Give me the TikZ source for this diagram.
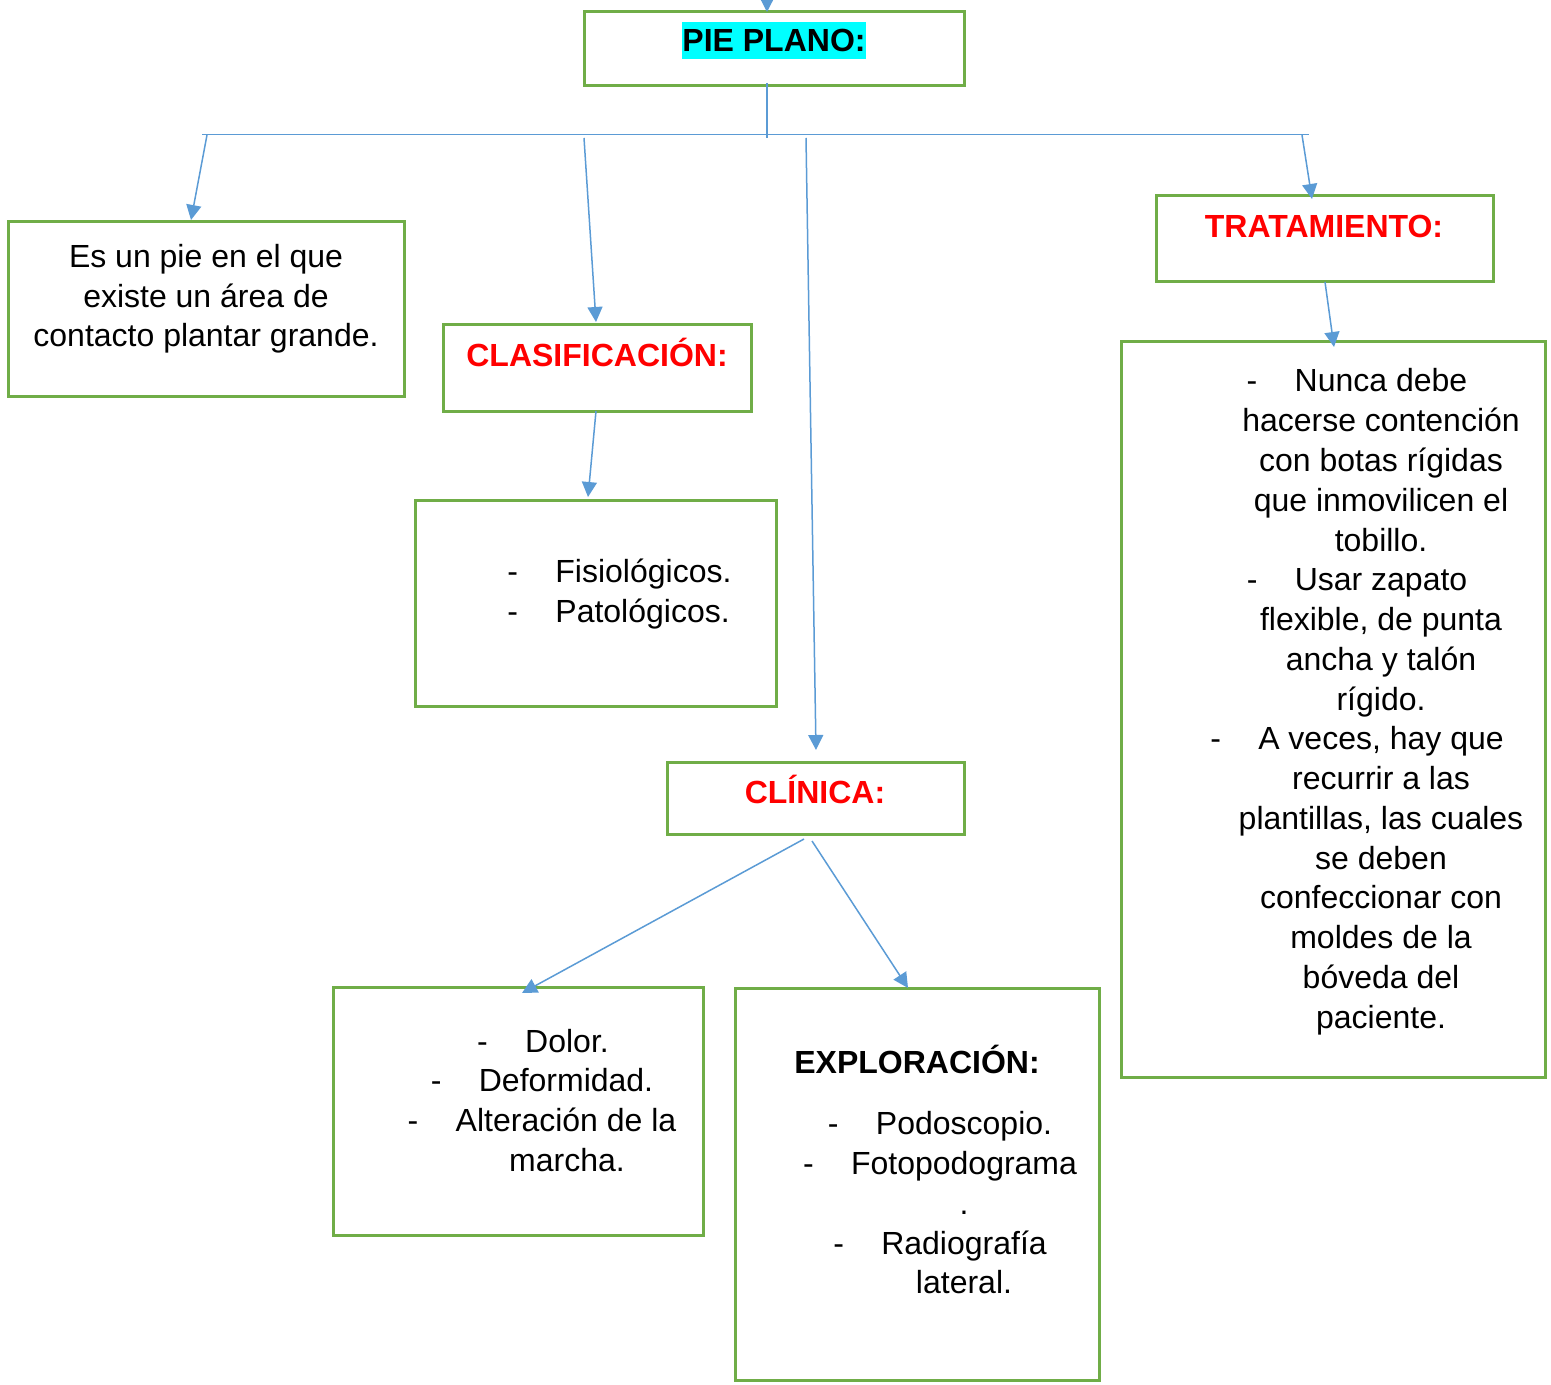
\documentclass[tikz,border=0pt]{standalone}
\usepackage{fontspec}
\setmainfont{Liberation Sans}
\usetikzlibrary{arrows.meta,fit,calc}
\definecolor{gr}{HTML}{70AD47}
\definecolor{bl}{HTML}{5B9BD5}
\definecolor{hl}{HTML}{00FFFF}
\definecolor{hd}{HTML}{FF0000}
\tikzset{
  gbox/.style={draw=gr, line width=1.5pt, inner sep=0pt},
  conn/.style={draw=bl, line width=0.75pt},
  arr/.style={conn, -{Triangle[length=7.5pt,width=7.5pt]}, fill=bl},
  body/.style={font=\fontsize{16pt}{20pt}\selectfont, inner sep=0pt, anchor=base},
  head/.style={font=\fontsize{16pt}{20pt}\selectfont\bfseries, text=hd, inner sep=0pt, anchor=base},
  dashmark/.style={font=\fontsize{16pt}{20pt}\selectfont, inner sep=0pt, anchor=base west},
}
\begin{document}
\begin{tikzpicture}[x=0.5pt,y=-0.5pt]
\useasboundingbox (0,0) rectangle (1551,1385);

% boxes
\node[gbox, fit={(584,12) (964,86)}] (bpie) {};
\node[gbox, fit={(8,222) (404,396)}] (bdef) {};
\node[gbox, fit={(443,325) (751,411)}] (bcla) {};
\node[gbox, fit={(415,500) (776,706)}] (btip) {};
\node[gbox, fit={(667,762) (964,834)}] (bcli) {};
\node[gbox, fit={(333,987) (703,1235)}] (bsin) {};
\node[gbox, fit={(735,988) (1099,1380)}] (bexp) {};
\node[gbox, fit={(1156,196) (1493,282)}] (btra) {};
\node[gbox, fit={(1121,342) (1545,1077)}] (btxt) {};

% headings
\node[font=\fontsize{16pt}{20pt}\selectfont\bfseries, fill=hl, inner sep=0pt,
      text height=15pt, text depth=3.5pt, anchor=base] (tpie) at (774,52) {PIE PLANO:};
\node[head] (tcla) at (597,366) {CLASIFICACIÓN:};
\node[head] (tcli) at (815,803) {CLÍNICA:};
\node[head] (ttra) at (1324,238) {TRATAMIENTO:};
\node[head, text=black] (texp) at (917,1073) {EXPLORACIÓN:};

% definition
\node[body] (d1) at (206,268) {Es un pie en el que};
\node[body] (d2) at (206,307.5) {existe un área de};
\node[body] (d3) at (206,347) {contacto plantar grande.};

% classification
\node[body, anchor=base west] (c1) at (555,582) {Fisiológicos.};
\node[body, anchor=base west] (c2) at (555,622) {Patológicos.};
\node[dashmark] (c1m) at ($(c1.base west)+(-48,0)$) {-};
\node[dashmark] (c2m) at ($(c2.base west)+(-48,0)$) {-};

% symptoms
\node[body] (s1) at (567,1052) {Dolor.};
\node[body] (s2) at (566,1091.5) {Deformidad.};
\node[body] (s3) at (566,1131) {Alteración de la};
\node[body] (s4) at (567,1171) {marcha.};
\node[dashmark] (s1m) at ($(s1.base west)+(-48,0)$) {-};
\node[dashmark] (s2m) at ($(s2.base west)+(-48,0)$) {-};
\node[dashmark] (s3m) at ($(s3.base west)+(-48,0)$) {-};

% exploration
\node[body] (e1) at (964,1134) {Podoscopio.};
\node[body] (e2) at (964,1174) {Fotopodograma};
\node[body] (e3) at (964,1214) {.};
\node[body] (e4) at (964,1254) {Radiografía};
\node[body] (e5) at (964,1293) {lateral.};
\node[dashmark] (e1m) at ($(e1.base west)+(-48,0)$) {-};
\node[dashmark] (e2m) at ($(e2.base west)+(-48,0)$) {-};
\node[dashmark] (e4m) at ($(e4.base west)+(-48,0)$) {-};

% treatment
\foreach \t [count=\i from 0] in {Nunca debe,hacerse contención,con botas rígidas,que inmovilicen el,tobillo.,Usar zapato,{flexible, de punta},ancha y talón,rígido.,{A veces, hay que},recurrir a las,{plantillas, las cuales},se deben,confeccionar con,moldes de la,bóveda del,paciente.}
  \node[body] (r\i) at (1381,{392+39.75*\i}) {\t};
\node[dashmark] (r0m) at ($(r0.base west)+(-48,0)$) {-};
\node[dashmark] (r5m) at ($(r5.base west)+(-48,0)$) {-};
\node[dashmark] (r9m) at ($(r9.base west)+(-48,0)$) {-};

% connector points
\coordinate (top) at (767,-30);
\coordinate (pietip) at (767,12);
\coordinate (vs) at (767,83);
\coordinate (ve) at (767,138);
\coordinate (hl) at (202,134.5);
\coordinate (hr) at (1309,134.5);
\coordinate (a1s) at (207,135);
\coordinate (a1e) at (191,220);
\coordinate (a2s) at (584,138);
\coordinate (a2e) at (596,322);
\coordinate (a3s) at (806,138);
\coordinate (a3e) at (816,750);
\coordinate (a4s) at (1302,135);
\coordinate (a4e) at (1312,199);
\coordinate (a5s) at (1325,282);
\coordinate (a5e) at (1334,347);
\coordinate (a6s) at (596,411);
\coordinate (a6e) at (588,497);
\coordinate (a7s) at (804,839);
\coordinate (a7e) at (522,993);
\coordinate (a8s) at (812,841);
\coordinate (a8e) at (908,988);

% connectors
\draw[arr] (top) -- (pietip);
\draw[conn] (vs) -- (ve);
\draw[conn] (hl) -- (hr);
\draw[arr] (a1s) -- (a1e);
\draw[arr] (a2s) -- (a2e);
\draw[arr] (a3s) -- (a3e);
\draw[arr] (a4s) -- (a4e);
\draw[arr] (a5s) -- (a5e);
\draw[arr] (a6s) -- (a6e);
\draw[arr] (a7s) -- (a7e);
\draw[arr] (a8s) -- (a8e);
\end{tikzpicture}
\end{document}
